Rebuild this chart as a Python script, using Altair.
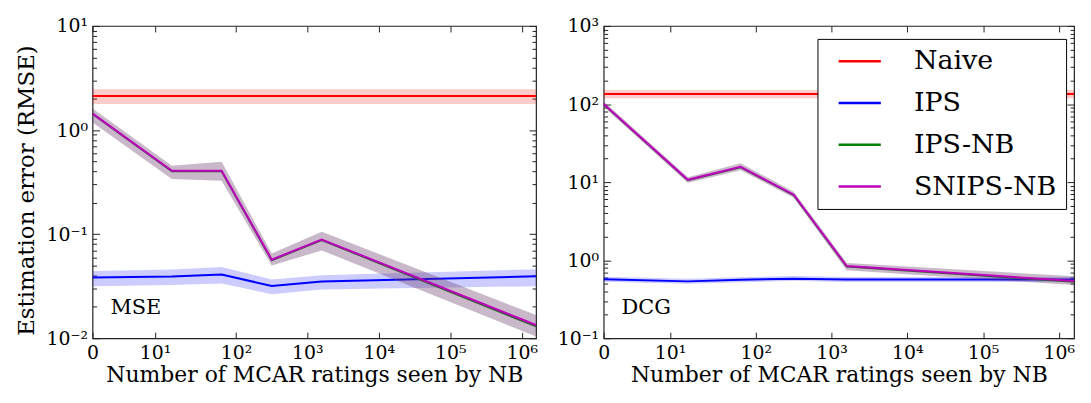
import altair as alt
import pandas as pd
import math

FONT = "DejaVu Serif"

# ---------------- data ----------------
ratings_seen = [0, 12.7, 63, 317, 1586, 1586000]
methods = ["Naive", "IPS", "IPS-NB", "SNIPS-NB"]
method_colors = ["#ff0000", "#0000ff", "#008000", "#bf00bf"]
band_opacity = [0.2, 0.2, 0.25, 0.25]

# MSE panel
mse_naive = [2.12, 2.12, 2.12, 2.12, 2.12, 2.12]
mse_naive_lo = [1.78, 1.78, 1.78, 1.78, 1.78, 1.78]
mse_naive_hi = [2.47, 2.47, 2.47, 2.47, 2.47, 2.47]
mse_ips = [0.0383, 0.0392, 0.0409, 0.0318, 0.0351, 0.0394]
mse_ips_lo = [0.0316, 0.0325, 0.0336, 0.0265, 0.0294, 0.0316]
mse_ips_hi = [0.0443, 0.0458, 0.0484, 0.0366, 0.0403, 0.0460]
mse_ipsnb = [1.43, 0.402, 0.402, 0.0562, 0.0878, 0.0130]
mse_ipsnb_lo = [1.18, 0.339, 0.326, 0.0499, 0.0698, 0.0104]
mse_ipsnb_hi = [1.61, 0.454, 0.495, 0.0650, 0.1054, 0.0167]
mse_snipsnb = [1.44, 0.406, 0.406, 0.0569, 0.0889, 0.0134]
mse_snipsnb_lo = [1.18, 0.339, 0.326, 0.0499, 0.0698, 0.0104]
mse_snipsnb_hi = [1.61, 0.454, 0.495, 0.0650, 0.1054, 0.0167]

# DCG panel
dcg_naive = [134, 134, 134, 134, 134, 134]
dcg_naive_lo = [119, 119, 119, 119, 119, 119]
dcg_naive_hi = [151, 151, 151, 151, 151, 151]
dcg_ips = [0.57, 0.535, 0.56, 0.58, 0.565, 0.565]
dcg_ips_lo = [0.53, 0.50, 0.52, 0.545, 0.525, 0.525]
dcg_ips_hi = [0.615, 0.58, 0.605, 0.625, 0.61, 0.61]
dcg_ipsnb = [99, 10.6, 15.5, 6.8, 0.83, 0.53]
dcg_ipsnb_lo = [92, 9.8, 14.2, 6.3, 0.74, 0.48]
dcg_ipsnb_hi = [108, 11.5, 17.4, 7.5, 0.92, 0.62]
dcg_snipsnb = [100, 10.7, 15.7, 6.9, 0.84, 0.54]
dcg_snipsnb_lo = [92, 9.8, 14.2, 6.3, 0.74, 0.48]
dcg_snipsnb_hi = [108, 11.5, 17.4, 7.5, 0.92, 0.62]

# ticks
x_tick_values = [0, 10, 100, 1000, 10000, 100000, 1000000]
x_tick_labels = ["0", "10¹", "10²", "10³", "10⁴", "10⁵", "10⁶"]
mse_tick_values = [0.01, 0.1, 1, 10]
mse_tick_labels = ["10⁻²", "10⁻¹", "10⁰", "10¹"]
dcg_tick_values = [0.1, 1, 10, 100, 1000]
dcg_tick_labels = ["10⁻¹", "10⁰", "10¹", "10²", "10³"]
minor_steps = [2, 3, 4, 5, 6, 7, 8, 9]

# symmetric-log x scale (linear below the threshold, log10 above it)
SYMLOG_THRESH = 12.7
SYMLOG_LINSCALE = 1 / 0.9
symlog_expr = (
    f"datum.ratings < {SYMLOG_THRESH} ? datum.ratings / {SYMLOG_THRESH} * {SYMLOG_LINSCALE}"
    f" : {SYMLOG_LINSCALE} + log(datum.ratings / {SYMLOG_THRESH}) / LN10"
)


def symlog(v):
    if v < SYMLOG_THRESH:
        return v / SYMLOG_THRESH * SYMLOG_LINSCALE
    return SYMLOG_LINSCALE + math.log10(v / SYMLOG_THRESH)


x_tick_pos = [symlog(v) for v in x_tick_values]


def label_expr(values, labels):
    expr = "'" + labels[-1] + "'"
    for i in range(len(values) - 2, -1, -1):
        mid = (values[i] + values[i + 1]) / 2
        expr = f"datum.value < {mid} ? '{labels[i]}' : ({expr})"
    return expr


def build_df(series):
    rows = []
    for m, (v, lo, hi) in zip(methods, series):
        for x, a, b, c in zip(ratings_seen, v, lo, hi):
            rows.append({"ratings": x, "method": m, "value": a, "lo": b, "hi": c})
    return pd.DataFrame(rows)


mse_df = build_df([
    (mse_naive, mse_naive_lo, mse_naive_hi),
    (mse_ips, mse_ips_lo, mse_ips_hi),
    (mse_ipsnb, mse_ipsnb_lo, mse_ipsnb_hi),
    (mse_snipsnb, mse_snipsnb_lo, mse_snipsnb_hi),
])
dcg_df = build_df([
    (dcg_naive, dcg_naive_lo, dcg_naive_hi),
    (dcg_ips, dcg_ips_lo, dcg_ips_hi),
    (dcg_ipsnb, dcg_ipsnb_lo, dcg_ipsnb_hi),
    (dcg_snipsnb, dcg_snipsnb_lo, dcg_snipsnb_hi),
])

color_scale = alt.Scale(domain=methods, range=method_colors)
opacity_scale = alt.Scale(domain=methods, range=band_opacity)

legend_def = alt.Legend(
    title=None, orient="none", legendX=215, legendY=13,
    symbolType="M-2,0H2", symbolSize=450, symbolStrokeWidth=2.5, symbolOpacity=1,
    labelFont=FONT, labelFontSize=27, labelColor="black",
    labelOffset=41, rowPadding=14, padding=9, symbolOffset=20,
    strokeColor="black", fillColor="white", labelLimit=400,
)

TICK = "#222"
MAJ = 7
MINR = 4
XT = 6


def panel(df, ydomain, yvals, ylabels, width, annot, ytitle, legend):
    yminor = [s * v for v in yvals[:-1] for s in minor_steps]
    xscale = alt.Scale(type="linear", nice=False, zero=True)
    yscale = alt.Scale(type="log", domain=ydomain, nice=False)

    ax_bottom = alt.Axis(
        values=x_tick_pos, labelExpr=label_expr(x_tick_pos, x_tick_labels),
        tickSize=XT, offset=-XT, labelPadding=5, domain=False, grid=False,
        labelFlush=False, labelOverlap=False, tickColor=TICK,
        title="Number of MCAR ratings seen by NB", titlePadding=3,
    )
    left_kwargs = dict(
        values=yvals, labelExpr=label_expr(yvals, ylabels),
        tickSize=MAJ, offset=-MAJ, labelPadding=5, domain=False, grid=False,
        labelOverlap=False, labelFlush=False, tickColor=TICK,
    )
    if ytitle:
        ax_left = alt.Axis(title=ytitle, titlePadding=8, titleFontSize=23, titleY=165, **left_kwargs)
    else:
        ax_left = alt.Axis(title=None, **left_kwargs)

    X = alt.X("xpos:Q", scale=xscale, axis=ax_bottom)
    layers = []
    for m in methods:
        base = alt.Chart(df).transform_calculate(xpos=symlog_expr).transform_filter(
            alt.datum.method == m
        )
        area = base.mark_area(clip=True).encode(
            x=X,
            y=alt.Y("lo:Q", scale=yscale, axis=ax_left),
            y2="hi:Q",
            fill=alt.Fill("method:N", scale=color_scale, legend=None),
            fillOpacity=alt.FillOpacity("method:N", scale=opacity_scale, legend=None),
        )
        line = base.mark_line(clip=True, strokeWidth=2).encode(
            x=X,
            y=alt.Y("value:Q", scale=yscale, axis=ax_left),
            color=alt.Color("method:N", scale=color_scale, legend=legend),
        )
        layers += [area, line]
    text = alt.Chart(pd.DataFrame({"t": [annot]})).mark_text(
        align="left", baseline="alphabetic", font=FONT, fontSize=21, color="black"
    ).encode(text="t:N", x=alt.value(18), y=alt.value(290))
    inner = alt.layer(*layers, text)

    def ghost(xaxis, yaxis):
        return alt.Chart(df).transform_calculate(xpos=symlog_expr).mark_point(opacity=0).encode(
            x=alt.X("xpos:Q", scale=xscale, axis=xaxis),
            y=alt.Y("value:Q", scale=yscale, axis=yaxis),
        )

    left_minor = ghost(None, alt.Axis(orient="left", values=yminor, labels=False, tickSize=MINR,
                                      offset=-MINR, domain=False, grid=False, title=None, tickColor=TICK))
    right_major = ghost(
        alt.Axis(orient="top", values=x_tick_pos, labels=False, tickSize=XT, offset=-XT,
                 domain=False, grid=False, title=None, tickColor=TICK),
        alt.Axis(orient="right", values=yvals, labels=False, tickSize=MAJ, offset=-MAJ,
                 domain=False, grid=False, title=None, tickColor=TICK),
    )
    right_minor = ghost(None, alt.Axis(orient="right", values=yminor, labels=False, tickSize=MINR,
                                       offset=-MINR, domain=False, grid=False, title=None, tickColor=TICK))
    return alt.layer(inner, left_minor, right_major, right_minor).resolve_scale(
        x="independent", y="independent"
    ).properties(width=width, height=314)


left = panel(mse_df, [0.01, 10], mse_tick_values, mse_tick_labels, 446, "MSE",
             "Estimation error (RMSE)", None)
right = panel(dcg_df, [0.1, 1000], dcg_tick_values, dcg_tick_labels, 473, "DCG", None, legend_def)

chart = alt.hconcat(left, right, spacing=68, bounds="flush").resolve_scale(
    color="independent"
).properties(
    padding={"left": 6, "top": 7, "right": 5, "bottom": 5}
).configure_view(
    stroke="#222", strokeWidth=1.2
).configure_axis(
    labelFont=FONT, labelFontSize=19, labelColor="black",
    titleFont=FONT, titleFontSize=22, titleFontWeight="normal", titleColor="black",
)

chart.save("out.html", embed_options={"renderer": "svg", "actions": False})
